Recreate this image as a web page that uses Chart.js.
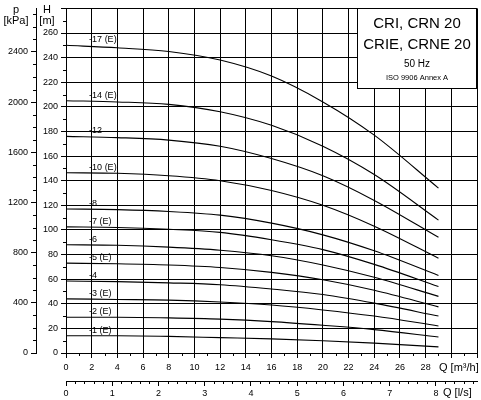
<!DOCTYPE html>
<html><head><meta charset="utf-8">
<script src="https://cdn.jsdelivr.net/npm/chart.js@4"></script>
<style>html,body{margin:0;padding:0;background:#fff}#w{width:481px;height:400px}</style>
</head><body><div id="w"><canvas id="c"></canvas></div>
<script>
const flowQ = [0, 4, 8, 12, 16, 20, 24, 29];
const stageLabels = ['-17 (E)','-14 (E)','-12','-10 (E)','-8','-7 (E)','-6','-5 (E)','-4','-3 (E)','-2 (E)','-1 (E)'];
const h17 = [250, 248, 245, 238, 225, 204, 177, 134];
const h14 = [205, 204, 202, 196, 185, 168, 145, 108];
const h12 = [176, 175, 173, 168, 158, 144, 124, 94];
const h10 = [146.5, 146, 144, 140, 132, 120, 103, 77];
const h8 = [117, 116.5, 115, 112, 105.5, 96, 83, 63];
const h7 = [102.5, 102, 100.5, 98, 92, 84, 72, 54];
const h6 = [88, 87.5, 86, 83.5, 79, 71.5, 61.5, 46];
const h5 = [73, 72.5, 71.5, 69.5, 65.5, 59.5, 51, 37.5];
const h4 = [58.5, 58, 57, 55.5, 52, 47.5, 40.5, 30];
const h3 = [44, 43.5, 43, 41.5, 39, 35, 30, 22];
const h2 = [29, 29, 28.5, 27.5, 25.5, 22.5, 19, 13];
const h1 = [14, 14, 13.5, 12.5, 11.5, 10, 8, 5];
const curves = [h17,h14,h12,h10,h8,h7,h6,h5,h4,h3,h2,h1];
const xTicks = [0,2,4,6,8,10,12,14,16,18,20,22,24,26,28];
const hTicks = [0,20,40,60,80,100,120,140,160,180,200,220,240,260];
const pTicks = [0,400,800,1200,1600,2000,2400];
const lsTicks = [0,1,2,3,4,5,6,7,8];
const F = 'Liberation Sans, Arial, sans-serif';

const datasets = curves.map((h,i)=>({
  label: stageLabels[i],
  data: flowQ.map((q,j)=>({x:q,y:h[j]})),
  borderColor:'#000', borderWidth:1.1, pointRadius:0, fill:false,
  cubicInterpolationMode:'monotone', xAxisID:'x', yAxisID:'y'
}));

const deco = {
  id:'deco',
  afterDraw(ch){
    const c = ch.ctx, x = ch.scales.x, y = ch.scales.y, p = ch.scales.p, ls = ch.scales.ls;
    c.save();
    c.fillStyle='#000'; c.strokeStyle='#000'; c.lineWidth=1;
    c.font = '9px '+F; c.textAlign='left'; c.textBaseline='bottom';
    curves.forEach((h,i)=>{
      c.fillText(stageLabels[i], x.getPixelForValue(1.8), y.getPixelForValue(h[0])-1);
    });
    c.beginPath();
    for(let v=10; v<280; v+=20){const py=Math.round(y.getPixelForValue(v))+0.5; c.moveTo(y.right-3,py); c.lineTo(y.right,py);}
    for(let v=100; v<2747; v+=100){ if(v%400===0) continue; const py=Math.round(p.getPixelForValue(v))+0.5; c.moveTo(p.right-3,py); c.lineTo(p.right,py);}
    for(let v=1; v<32; v+=2){const px=Math.round(x.getPixelForValue(v))+0.5; c.moveTo(px,x.top); c.lineTo(px,x.top+3);}
    for(let v=0.2; v<8.9; v+=0.2){ if(Math.abs(v-Math.round(v))<0.01) continue; const px=Math.round(ls.getPixelForValue(v))+0.5; c.moveTo(px,ls.top); c.lineTo(px,ls.top+3);}
    c.stroke();
    c.font='11px '+F; c.textAlign='center'; c.textBaseline='middle';
    c.fillText('p',16,10); c.fillText('[kPa]',16,21);
    c.fillText('H',47,10); c.fillText('[m]',47,21);
    c.textAlign='left';
    c.fillText('Q [m³/h]',439,368); c.fillText('Q [l/s]',443,393);
    const bx=357, by=8, bw=ch.chartArea.right-bx, bh=80;
    c.fillStyle='#fff'; c.fillRect(bx,by,bw,bh);
    c.strokeRect(bx+0.5,by+0.5,bw-1,bh);
    c.fillStyle='#000'; c.textAlign='center';
    const cx=bx+bw/2;
    c.font='15px '+F; c.fillText('CRI, CRN 20',cx,24); c.fillText('CRIE, CRNE 20',cx,45);
    c.font='10px '+F; c.fillText('50 Hz',cx,64);
    c.font='7.5px '+F; c.fillText('ISO 9906 Annex A',cx,78);
    c.restore();
  }
};

new Chart(document.getElementById('c'),{
  type:'line',
  data:{datasets},
  options:{
    responsive:true, maintainAspectRatio:false, animation:false,
    layout:{padding:{top:8,right:4,left:0,bottom:0}},
    plugins:{legend:{display:false},tooltip:{enabled:false}},
    scales:{
      x:{type:'linear',position:'bottom',min:0,max:32,
        afterBuildTicks(s){s.ticks=[...xTicks,30,32].map(v=>({value:v}));},
        afterFit(s){s.height=28;},
        ticks:{color:'#000',font:{family:F,size:9},padding:4,callback:v=>v<=28?String(v):''},
        grid:{color:'#000',lineWidth:1,tickLength:5},
        border:{color:'#000'}},
      ls:{type:'linear',position:'bottom',min:0,max:32/3.6,
        afterBuildTicks(s){s.ticks=lsTicks.map(v=>({value:v}));},
        afterFit(s){s.height=19;},
        ticks:{color:'#000',font:{family:F,size:9},padding:2,callback:v=>String(v)},
        grid:{drawOnChartArea:false,color:'#000',tickLength:5},
        border:{color:'#000'}},
      y:{type:'linear',position:'left',min:0,max:280,
        afterBuildTicks(s){s.ticks=[...hTicks,280].map(v=>({value:v}));},
        afterFit(s){s.width=30;},
        ticks:{color:'#000',font:{family:F,size:9},padding:3,callback:v=>v<=260?String(v):''},
        grid:{color:'#000',lineWidth:1,tickLength:5},
        border:{color:'#000'}},
      p:{type:'linear',position:'left',min:0,max:280*9.81,
        afterBuildTicks(s){s.ticks=pTicks.map(v=>({value:v}));},
        afterFit(s){s.width=36;},
        ticks:{color:'#000',font:{family:F,size:9},padding:3,callback:v=>String(v)},
        grid:{drawOnChartArea:false,color:'#000',tickLength:5},
        border:{color:'#000'}}
    }
  },
  plugins:[deco]
});
</script></body></html>
